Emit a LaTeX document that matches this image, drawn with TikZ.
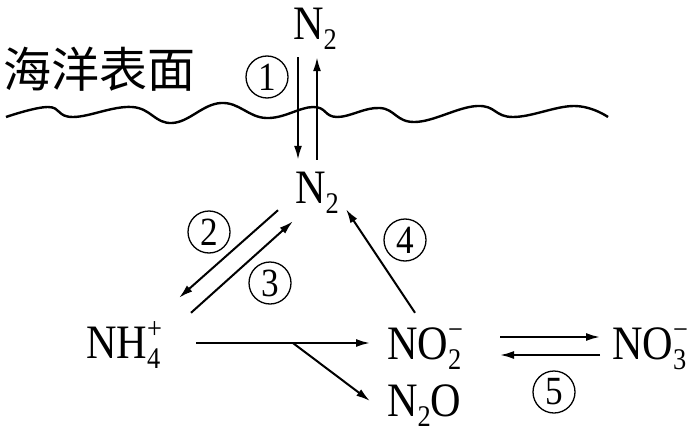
\documentclass[tikz,border=0pt]{standalone}
\usepackage{fontspec}
\setmainfont{Liberation Serif}[FakeStretch=0.88]
\newfontfamily\cjk{Noto Sans CJK SC}
\usetikzlibrary{arrows.meta,calc}
\newcommand{\chsub}[1]{\raisebox{-10pt}{\fontsize{30}{30}\selectfont #1}}
\newcommand{\chsup}[1]{\raisebox{20pt}{\fontsize{30}{30}\selectfont #1}}
\newcommand{\chion}[2]{\rlap{\chsup{#2}}\chsub{#1}}
\begin{document}
\begin{tikzpicture}
    [x=1pt,y=-1pt,
    species/.style={inner sep=0pt,anchor=base west,text height=32pt,text depth=11pt,font=\fontsize{48}{50}\selectfont},
    stepno/.style={circle,draw,line width=1.3pt,inner sep=0pt,minimum size=42pt,font=\fontsize{40}{42}\selectfont},
    arr/.style={line width=2pt,-{Latex[length=14pt,width=8pt]}}
    ]
    \useasboundingbox (0,0) rectangle (692,433);
    \node (sea) at (3,69) [anchor=west,inner sep=0pt,font=\cjk\fontsize{48}{50}\selectfont] {海洋表面};
    \node (n2top) at (293,40) [species] {N\chsub{2}};
    \node (n2mid) at (295,203) [species] {N\chsub{2}};
    \node (nh4) at (86,358) [species] {NH\chion{4}{+}};
    \node (no2) at (387,359) [species] {NO\chion{2}{−}};
    \node (n2o) at (387,416) [species] {N\chsub{2}O};
    \node (no3) at (612,359) [species] {NO\chion{3}{−}};
    \node (c1) at (267,77) [stepno] {1};
    \node (c2) at (209,232) [stepno] {2};
    \node (c3) at (270,283) [stepno] {3};
    \node (c4) at (405,240) [stepno] {4};
    \node (c5) at (554,392) [stepno] {5};
    % sea surface
    \draw [line width=2.4pt] plot [smooth,tension=0.7] coordinates {(6,117) (48,107) (73,117) (132,107) (172,123) (221,103) (266,118) (313,107) (337,117) (380,108) (415,122) (477,106) (513,117) (574,106) (608,117)};
    \draw [arr] ($(n2top.south west)+(5,6)$) to ($(n2mid.north west)+(3,-11)$);
    \draw [arr] ($(n2mid.north west)+(22,-11)$) to ($(n2top.south west)+(24,6)$);
    \draw [arr] ($(n2mid.south west)+(-17,-4)$) to ($(nh4.north west)+(93,-28)$);
    \draw [arr] ($(nh4.north west)+(105,-13)$) to ($(n2mid.south west)+(-2,7)$);
    \draw [arr] ($(no2.north west)+(28,-14)$) to ($(n2mid.south west)+(51,-5)$);
    \draw [arr] ($(nh4.base west)+(110,-15)$) -- coordinate[pos=0.557] (fork) ($(no2.base west)+(-17,-16)$);
    \draw [arr] (fork) to ($(n2o.base west)+(-17,-15)$);
    \draw [arr] ($(no2.base west)+(113,-22)$) to ($(no3.base west)+(-12,-22)$);
    \draw [arr] ($(no3.base west)+(-12,-4)$) to ($(no2.base west)+(113,-4)$);
\end{tikzpicture}
\end{document}
